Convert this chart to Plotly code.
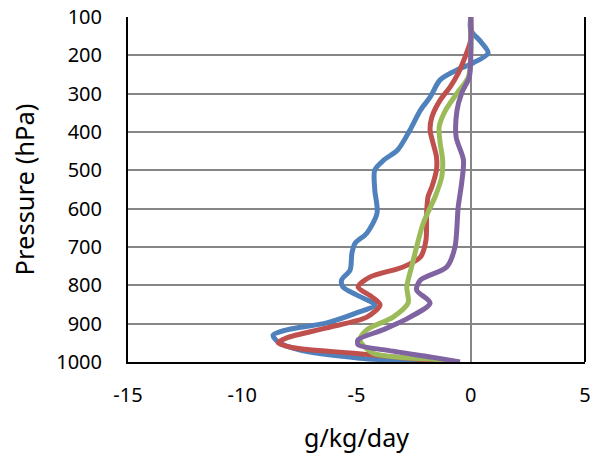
import plotly.graph_objects as go

# Series: (value g/kg/day, pressure hPa)
blue_p = [100, 134, 165, 194, 220, 238, 264, 309, 343, 395, 447, 473, 499, 551, 611, 664, 690, 716, 760, 786, 804, 825, 851, 872, 898, 916, 930, 948, 969, 990, 1000]
blue_x = [0.0, 0.0, 0.45, 0.76, 0.1, -0.6, -1.34, -1.78, -2.2, -2.66, -3.2, -3.8, -4.2, -4.2, -4.1, -4.55, -5.06, -5.2, -5.28, -5.65, -5.6, -5.0, -4.2, -5.0, -6.3, -8.05, -8.65, -8.43, -7.47, -4.85, -1.5]

red_p = [100, 160, 212, 247, 282, 317, 361, 395, 429, 465, 499, 543, 569, 611, 682, 726, 752, 778, 804, 830, 851, 883, 911, 937, 950, 963, 977, 995, 1000]
red_x = [0.0, 0.0, -0.3, -0.55, -0.9, -1.34, -1.7, -1.78, -1.65, -1.5, -1.5, -1.7, -1.87, -1.93, -1.96, -2.2, -2.96, -4.4, -4.93, -4.33, -3.97, -4.55, -6.3, -8.05, -8.43, -7.77, -5.13, -1.9, -1.0]

green_p = [100, 200, 256, 299, 343, 386, 429, 473, 517, 569, 638, 700, 752, 804, 846, 883, 916, 942, 977, 995, 1000]
green_x = [0.0, 0.0, -0.1, -0.6, -1.1, -1.38, -1.34, -1.23, -1.27, -1.56, -2.08, -2.37, -2.59, -2.8, -2.74, -3.4, -4.55, -4.85, -4.27, -1.2, -0.8]

purple_p = [100, 200, 256, 299, 343, 413, 473, 534, 596, 700, 752, 786, 812, 846, 883, 916, 942, 955, 969, 988, 1000]
purple_x = [0.0, 0.0, -0.06, -0.4, -0.6, -0.64, -0.32, -0.4, -0.55, -0.69, -1.05, -2.2, -2.37, -1.78, -2.66, -3.84, -4.93, -4.93, -3.7, -1.65, -0.47]

x_ticks = [-15, -10, -5, 0, 5]
x_tick_labels = ["-15", "-10", "-5", "0", "5"]
y_ticks = [100, 200, 300, 400, 500, 600, 700, 800, 900, 1000]

series = [
    (blue_x, blue_p, "#4F81BD"),
    (red_x, red_p, "#C0504D"),
    (green_x, green_p, "#9BBB59"),
    (purple_x, purple_p, "#8064A2"),
]

fig = go.Figure()
for xs, ps, col in series:
    fig.add_trace(go.Scatter(x=xs, y=ps, mode="lines",
                             line=dict(color=col, width=5, shape="spline", smoothing=0.8),
                             showlegend=False))

font_family = "Noto Sans, Open Sans, sans-serif"
fig.update_layout(
    width=591, height=459,
    margin=dict(l=128, r=6, t=17, b=97),
    paper_bgcolor="white", plot_bgcolor="white",
    font=dict(family=font_family, size=20, color="black"),
    xaxis=dict(range=[-15, 5], tickvals=x_ticks, ticktext=x_tick_labels,
               showgrid=False, automargin=False,
               zeroline=True, zerolinecolor="#868686", zerolinewidth=2,
               showline=True, linecolor="black", linewidth=2, ticks="",
               ticklabelstandoff=14,
               title=dict(text="g/kg/day", font=dict(size=25), standoff=22)),
    yaxis=dict(range=[1000, 100], tickvals=y_ticks, showgrid=True, automargin=False,
               gridcolor="#868686", gridwidth=2, zeroline=False,
               showline=True, linecolor="black", linewidth=2, ticks="",
               ticklabelstandoff=20,
               title=dict(text="Pressure (hPa)", font=dict(size=25.5), standoff=14)),
    shapes=[dict(type="line", xref="paper", yref="paper", x0=1, x1=1, y0=0, y1=1,
                 line=dict(color="black", width=2))],
)

fig.write_html("out.html", config={"displayModeBar": False},
               post_script="document.body.style.margin='0';document.body.style.overflow='hidden';")
